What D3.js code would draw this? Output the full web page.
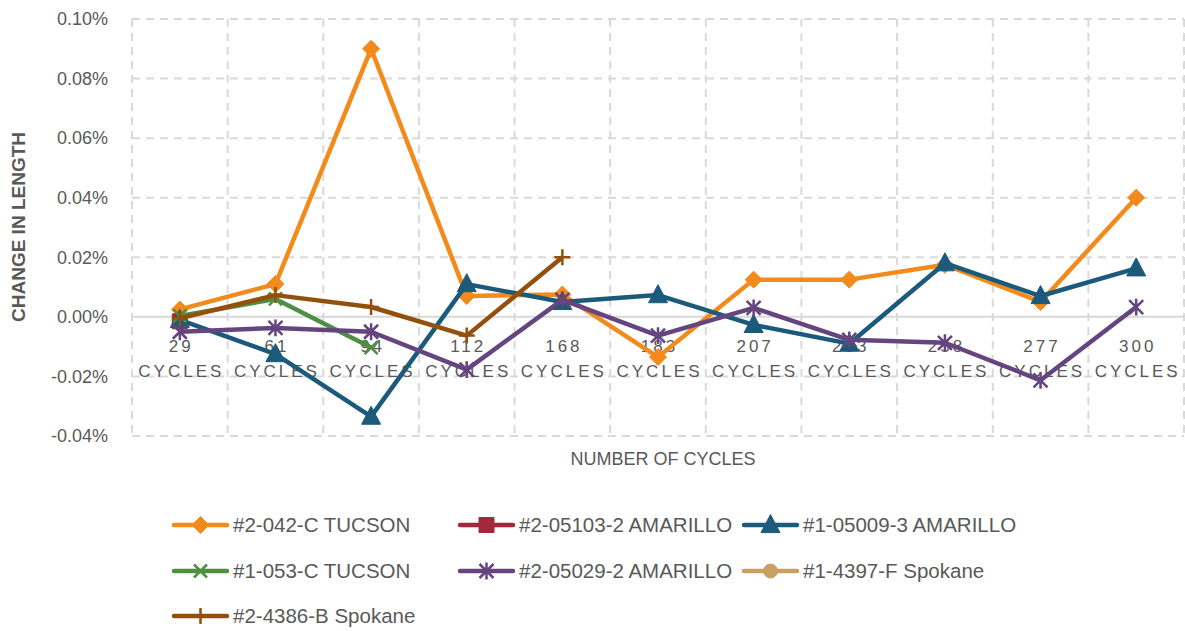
<!DOCTYPE html>
<html>
<head>
<meta charset="utf-8">
<script src="https://cdn.jsdelivr.net/npm/d3@7"></script>
<style>
    body { margin: 0; background: #ffffff; }
    svg text { font-family: "Liberation Sans", Arial, sans-serif; fill: #595959; }
</style>
</head>
<body>
<svg id="chart" width="1185" height="631"></svg>
<script>
// cycle counts along the x axis
var cycle_labels = ["29", "61", "94", "112", "168", "183", "207", "233", "258", "277", "300"];
var y_ticks = [-0.0004, -0.0002, 0, 0.0002, 0.0004, 0.0006, 0.0008, 0.001];

// change in length, in percent (null = not measured)
var tucson_042c    = [0.0025, 0.011, 0.090, 0.007, 0.0075, -0.0135, 0.0125, 0.0125, 0.0175, 0.005, 0.040];
var amarillo_05103 = [-0.0015, null, null, null, null, null, null, null, null, null, null];
var amarillo_05009 = [-0.001, -0.0125, -0.0335, 0.011, 0.005, 0.0073, -0.0027, -0.009, 0.018, 0.007, 0.0163];
var tucson_053c    = [0.0003, 0.006, -0.0103, null, null, null, null, null, null, null, null];
var amarillo_05029 = [-0.005, -0.0037, -0.005, -0.0177, 0.0057, -0.0063, 0.003, -0.0077, -0.0087, -0.0213, 0.0033];
var spokane_4397f  = [null, null, null, null, null, null, null, null, null, null, null];
var spokane_4386b  = [-0.0005, 0.0073, 0.0033, -0.0063, 0.020, null, null, null, null, null, null];

var series_names  = ["#2-042-C TUCSON", "#2-05103-2 AMARILLO", "#1-05009-3 AMARILLO", "#1-053-C TUCSON",
                     "#2-05029-2 AMARILLO", "#1-4397-F Spokane", "#2-4386-B Spokane"];
var series_colors = ["#f28a1c", "#a2283a", "#1b5a7b", "#4f8f42", "#65457f", "#c9a064", "#93500d"];
var series_marker = ["diamond", "square", "triangle", "x", "asterisk", "circle", "plus"];
var series_values = [tucson_042c, amarillo_05103, amarillo_05009, tucson_053c, amarillo_05029, spokane_4397f, spokane_4386b];

// legend placement: column x, row y
var legend_cols = [174, 460, 744];
var legend_rows = [525, 571, 616];

var marker_shapes =
{
    diamond: { draw: function(ctx, r) { ctx.moveTo(0, -r); ctx.lineTo(r, 0); ctx.lineTo(0, r); ctx.lineTo(-r, 0); ctx.closePath(); } },
    square: { draw: function(ctx, r) { ctx.rect(-r, -r, 2 * r, 2 * r); } },
    triangle: { draw: function(ctx, r) { ctx.moveTo(0, -r * 1.1); ctx.lineTo(r, r * 0.8); ctx.lineTo(-r, r * 0.8); ctx.closePath(); } },
    x: { draw: function(ctx, r) { ctx.moveTo(-r, -r); ctx.lineTo(r, r); ctx.moveTo(r, -r); ctx.lineTo(-r, r); } },
    asterisk: { draw: function(ctx, r) { ctx.moveTo(-r, -r); ctx.lineTo(r, r); ctx.moveTo(r, -r); ctx.lineTo(-r, r); ctx.moveTo(0, -r * 1.2); ctx.lineTo(0, r * 1.2); } },
    circle: { draw: function(ctx, r) { ctx.arc(0, 0, r, 0, 2 * Math.PI); } },
    plus: { draw: function(ctx, r) { ctx.moveTo(-r, 0); ctx.lineTo(r, 0); ctx.moveTo(0, -r); ctx.lineTo(0, r); } }
};
var marker_size = { diamond: 8.5, square: 7.5, triangle: 9.5, x: 6.5, asterisk: 7, circle: 7, plus: 8 };
var stroke_only = { x: true, asterisk: true, plus: true };

var series = series_names.map(function(name, i)
{
    return {
        name: name,
        color: series_colors[i],
        marker: series_marker[i],
        points: series_values[i].map(function(v, j) { return { cycle: cycle_labels[j], value: v === null ? null : v / 100 }; })
    };
});

var svg = d3.select("#chart");
var plot_left = 132, plot_right = 1184, plot_top = 19, plot_bottom = 436;

var x = d3.scaleBand().domain(cycle_labels).range([plot_left, plot_right]);
var y = d3.scaleLinear().domain([-0.0004, 0.001]).range([plot_bottom, plot_top]);

function marker_path(kind)
{
    return d3.symbol().type(marker_shapes[kind]).size(marker_size[kind])();
}

// horizontal grid
svg.append("g").selectAll("line").data(y_ticks).enter().append("line").
    attr("x1", plot_left).
    attr("x2", plot_right).
    attr("y1", function(d) { return y(d); }).
    attr("y2", function(d) { return y(d); }).
    attr("stroke", "#d9d9d9").
    attr("stroke-width", 2).
    attr("stroke-dasharray", function(d) { return d === 0 ? null : "8,6"; });

// vertical grid on category boundaries
var boundaries = cycle_labels.map(function(c) { return x(c); }).concat([plot_right]);
svg.append("g").selectAll("line").data(boundaries).enter().append("line").
    attr("x1", function(d) { return d; }).
    attr("x2", function(d) { return d; }).
    attr("y1", plot_top).
    attr("y2", plot_bottom).
    attr("stroke", "#d9d9d9").
    attr("stroke-width", 2).
    attr("stroke-dasharray", "8,6");

// y axis labels (Excel uses a plain hyphen for the minus)
var pct = d3.format(".2%");
var y_axis = svg.append("g").
    attr("transform", "translate(" + (plot_left - 8) + ",0)").
    call(d3.axisLeft(y).tickValues(y_ticks).tickFormat(function(d) { return pct(d).replace("\u2212", "-"); }).tickSize(0).tickPadding(16));
y_axis.select(".domain").remove();
y_axis.selectAll("text").style("font-size", "18px").attr("fill", "#595959");

// x axis labels sit just under the zero line
var x_axis = svg.append("g").
    attr("transform", "translate(0," + y(0) + ")").
    call(d3.axisBottom(x).tickSize(0).tickFormat(""));
x_axis.select(".domain").remove();
x_axis.selectAll(".tick text").remove();
var tick_text = x_axis.selectAll(".tick").append("text").
    attr("text-anchor", "middle").
    style("font-size", "17px").
    style("letter-spacing", "3px").
    attr("fill", "#6e6e6e");
tick_text.append("tspan").attr("x", 1.5).attr("y", 35).text(function(d) { return d; });
tick_text.append("tspan").attr("x", 1.5).attr("y", 60).text("CYCLES");

// series lines
var line = d3.line().
    defined(function(d) { return d.value !== null; }).
    x(function(d) { return x(d.cycle) + x.bandwidth() / 2; }).
    y(function(d) { return y(d.value); });

var series_group = svg.append("g").selectAll("g").data(series).enter().append("g");
series_group.append("path").
    attr("fill", "none").
    attr("stroke", function(s) { return s.color; }).
    attr("stroke-width", 4.5).
    attr("stroke-linejoin", "round").
    attr("d", function(s) { return line(s.points); });
series_group.each(function(s)
{
    d3.select(this).selectAll(".marker").data(s.points.filter(function(p) { return p.value !== null; })).enter().append("path").
        attr("class", "marker").
        attr("transform", function(p) { return "translate(" + (x(p.cycle) + x.bandwidth() / 2) + "," + y(p.value) + ")"; }).
        attr("d", marker_path(s.marker)).
        attr("fill", stroke_only[s.marker] ? "none" : s.color).
        attr("stroke", s.color).
        attr("stroke-width", stroke_only[s.marker] ? 2.5 : 1);
});

// axis titles
svg.append("text").
    attr("transform", "translate(25,227) rotate(-90)").
    attr("text-anchor", "middle").
    style("font-size", "19px").
    style("font-weight", "bold").
    text("CHANGE IN LENGTH");
svg.append("text").
    attr("x", 663).
    attr("y", 465).
    attr("text-anchor", "middle").
    style("font-size", "18px").
    text("NUMBER OF CYCLES");

// legend
var legend = svg.append("g").selectAll("g").data(series).enter().append("g").
    attr("transform", function(s, i) { return "translate(" + legend_cols[i % 3] + "," + legend_rows[Math.floor(i / 3)] + ")"; });
legend.append("line").
    attr("x1", 0).
    attr("x2", 53).
    attr("stroke", function(s) { return s.color; }).
    attr("stroke-width", 4.5).
    attr("stroke-linecap", "round");
legend.append("path").
    attr("transform", "translate(26.5,0)").
    attr("d", function(s) { return marker_path(s.marker); }).
    attr("fill", function(s) { return stroke_only[s.marker] ? "none" : s.color; }).
    attr("stroke", function(s) { return s.color; }).
    attr("stroke-width", function(s) { return stroke_only[s.marker] ? 2.5 : 1; });
legend.append("text").
    attr("x", 59).
    attr("y", 7).
    style("font-size", "20.5px").
    attr("fill", "#595959").
    text(function(s) { return s.name; });
</script>
</body>
</html>
